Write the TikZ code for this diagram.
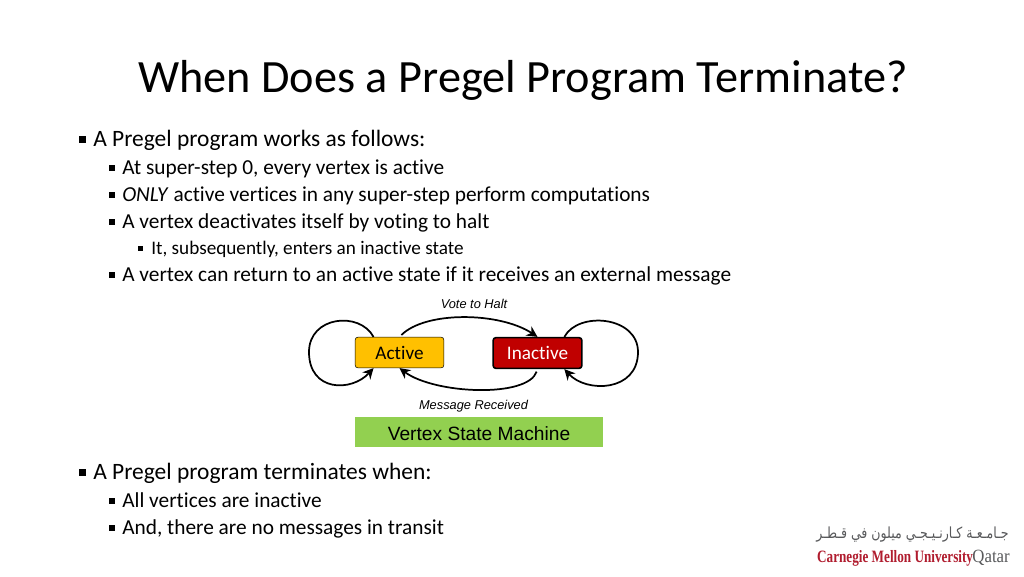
\documentclass[tikz,border=0pt]{standalone}
\usepackage{fontspec}
\setmainfont[Ligatures=NoCommon]{Carlito}
\newfontfamily\armo{Liberation Sans}
\newfontfamily\logoserif{Liberation Serif}
\newfontfamily\arabicfont[Script=Arabic]{DejaVu Sans}
\TeXXeTstate=1
\usetikzlibrary{arrows.meta}
\definecolor{activeyel}{HTML}{FFC000}
\definecolor{inactred}{HTML}{C00000}
\definecolor{machgreen}{HTML}{92D050}
\definecolor{cmured}{HTML}{B01C2E}
\definecolor{logogray}{HTML}{58595B}
\newcommand{\sqbul}[3]{\fill (#1,#2)rectangle(#1+#3,#2-#3);}
\tikzset{
  title/.style={anchor=base west,inner sep=0pt,font=\fontsize{34.7}{34.7}\selectfont},
  lvlone/.style={anchor=base west,inner sep=0pt,font=\fontsize{17.6}{17.6}\selectfont},
  lvltwo/.style={anchor=base west,inner sep=0pt,font=\fontsize{16}{16}\selectfont},
  lvlthree/.style={anchor=base west,inner sep=0pt,font=\fontsize{14.4}{14.4}\selectfont},
  state/.style={draw,rounded corners=2pt,minimum width=66.5pt,minimum height=23pt,inner sep=0pt,font=\fontsize{14.4}{14.4}\selectfont},
  edgelabel/.style={inner sep=0pt,font=\armo\itshape\fontsize{9.6}{9.6}\selectfont},
  arcline/.style={draw,line width=1.3pt},
  arc/.style={arcline,-{Stealth[length=8pt,width=8pt]}}
}
\begin{document}
\begin{tikzpicture}[x=0.75pt,y=-0.75pt]
\useasboundingbox (0,0) rectangle (1024,576);
\node[title] (title) at (138,92){When Does a Pregel Program Terminate?};
% first list
\sqbul{79}{143}{7}
\node[lvlone] (works) at (93,146.5){A Pregel program works as follows:};
\sqbul{109}{170.5}{6}
\node[lvltwo] (step) at (122,174.5){At super-step 0, every vertex is active};
\sqbul{109}{197.5}{6}
\node[lvltwo] (only) at (122,201.5){\textit{ONLY} active vertices in any super-step perform computations};
\sqbul{109}{224.5}{6}
\node[lvltwo] (deact) at (122,228.5){A vertex deactivates itself by voting to halt};
\sqbul{138}{251}{5}
\node[lvlthree] (subseq) at (151,254.5){It, subsequently, enters an inactive state};
\sqbul{109}{277.5}{6}
\node[lvltwo] (return) at (122,281.5){A vertex can return to an active state if it receives an external message};
% state machine
\node[state,fill=activeyel] (active) at (399.5,352.5){Active};
\node[state,fill=inactred,text=white,line width=1.2pt] (inactive) at (537.5,353){Inactive};
\coordinate (activeloop) at (309,352);
\coordinate (inactiveloop) at (638,352);
\draw[arcline] (active.149) .. controls +(-14,-26) and +(0,-36) .. (activeloop);
\draw[arc] (activeloop) .. controls +(0,40) and +(-22,24) .. (active.-149);
\draw[arcline] (inactive.31) .. controls +(14,-26) and +(0,-36) .. (inactiveloop);
\draw[arc] (inactiveloop) .. controls +(0,40) and +(22,24) .. (inactive.-31);
\draw[arc,shorten <=2pt] (active.north) .. controls +(26,-26) and +(-38,-25) .. (inactive.north);
\draw[arc,shorten <=2pt] (inactive.south) .. controls +(-10,29) and +(35,26) .. (active.south);
\node[edgelabel] (vote) at (474,303.5){Vote to Halt};
\node[edgelabel] (msg) at (473.5,406.5){Message Received};
\node[fill=machgreen,minimum width=186pt,minimum height=22.5pt,inner sep=0pt,text height=12pt,text depth=0pt,font=\armo\fontsize{14.4}{14.4}\selectfont] (machine) at (479,432){Vertex State Machine};
% second list
\sqbul{79}{476}{7}
\node[lvlone] (terms) at (93,479.5){A Pregel program terminates when:};
\sqbul{109}{503.5}{6}
\node[lvltwo] (allinact) at (122,507.5){All vertices are inactive};
\sqbul{109}{530.5}{6}
\node[lvltwo] (nomsg) at (122,534.5){And, there are no messages in transit};
% logo
\node[inner sep=0pt,text=logogray,xscale=.82,font=\arabicfont\fontsize{11.5}{11.5}\selectfont] (logoar) at (912.5,535){\beginR جـامـعـة كـارنـيـجـي ميلون في قـطـر\endR};
\node[anchor=base west,inner sep=0pt,xscale=.76,font=\logoserif\bfseries\fontsize{13}{13}\selectfont,text=cmured] (logocmu) at (817,562){Carnegie Mellon University};
\node[anchor=base east,inner sep=0pt,xscale=.9,font=\logoserif\fontsize{14}{14}\selectfont,text=logogray] (logoq) at (1010,562){Qatar};
\end{tikzpicture}
\end{document}
